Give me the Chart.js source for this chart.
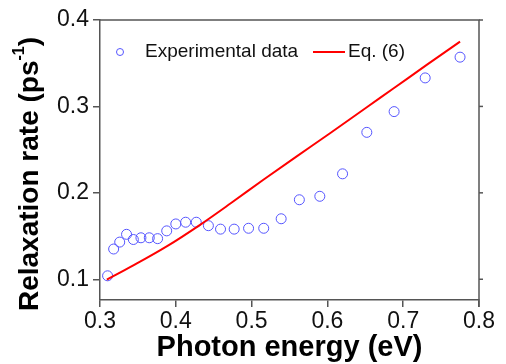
<!DOCTYPE html>
<html>
<head>
<meta charset="utf-8">
<script src="https://cdn.jsdelivr.net/npm/chart.js@4"></script>
<style>
  html, body { margin: 0; padding: 0; background: #fff; }
  #grafico { display: block; }
</style>
</head>
<body>
<canvas id="grafico" width="506" height="364"></canvas>
<script>
// experimental points (photon energy in eV, relaxation rate in ps^-1)
const expEnergy = [0.310, 0.318, 0.326, 0.335, 0.344, 0.354, 0.365, 0.376, 0.388, 0.400, 0.413, 0.427,
                   0.443, 0.459, 0.477, 0.496, 0.516, 0.539, 0.563, 0.590, 0.620, 0.652, 0.688, 0.729, 0.775];
const expRate = [0.104, 0.135, 0.143, 0.152, 0.146, 0.148, 0.148, 0.147, 0.156, 0.164, 0.166, 0.166,
                 0.162, 0.158, 0.158, 0.159, 0.159, 0.170, 0.192, 0.196, 0.222, 0.270, 0.294, 0.333, 0.357];

// Eq. (6) curve
const eqEnergy = [0.309, 0.344, 0.388, 0.432, 0.472, 0.516, 0.560, 0.603, 0.652, 0.687, 0.731, 0.775];
const eqRate = [0.0995, 0.116, 0.138, 0.163, 0.1876, 0.2154, 0.2425, 0.2687, 0.2991, 0.3207, 0.348, 0.375];

const xTicks = [0.3, 0.4, 0.5, 0.6, 0.7, 0.8];
const yTicks = [0.1, 0.2, 0.3, 0.4];

const axisColor = '#555555';
const fontFam = "'Liberation Sans', Arial, sans-serif";

const toPoints = (xs, ys) => xs.map((x, i) => ({ x: x, y: ys[i] }));

// frame (top/right), y title with superscript and legend
const extras = {
    id: 'extras',
    afterDraw(chart) {
        const c = chart.ctx;
        const a = chart.chartArea;
        const ys = chart.scales.y;
        c.save();
        c.strokeStyle = axisColor;
        c.lineWidth = 1.5;
        c.beginPath();
        c.moveTo(a.left, a.top);
        c.lineTo(a.right, a.top);
        c.lineTo(a.right, a.bottom + 7);
        c.stroke();
        yTicks.forEach(v => {
            const py = ys.getPixelForValue(v);
            c.beginPath();
            c.moveTo(a.right, py);
            c.lineTo(a.right + 4, py);
            c.stroke();
        });

        // y axis title
        const big = 'bold 28px ' + fontFam;
        const small = 'bold 16px ' + fontFam;
        const p1 = 'Relaxation rate (ps', p2 = '-1', p3 = ')';
        c.font = big; const w1 = c.measureText(p1).width, w3 = c.measureText(p3).width;
        c.font = small; const w2 = c.measureText(p2).width;
        const total = w1 + w2 + w3;
        c.translate(30, 174);
        c.rotate(-Math.PI / 2);
        c.fillStyle = '#000';
        c.textBaseline = 'middle';
        c.textAlign = 'left';
        let x0 = -total / 2;
        c.font = big; c.fillText(p1, x0, 0);
        c.font = small; c.fillText(p2, x0 + w1, -10);
        c.font = big; c.fillText(p3, x0 + w1 + w2, 0);
        c.restore();

        // legend
        const ds0 = chart.data.datasets[0], ds1 = chart.data.datasets[1];
        c.save();
        c.font = '19px ' + fontFam;
        c.fillStyle = '#111';
        c.textBaseline = 'middle';
        c.strokeStyle = ds0.borderColor;
        c.lineWidth = 1;
        c.beginPath();
        c.arc(120, 52, 3.5, 0, Math.PI * 2);
        c.stroke();
        c.fillText(ds0.label, 145, 52);
        c.strokeStyle = ds1.borderColor;
        c.lineWidth = 2;
        c.beginPath();
        c.moveTo(313, 52);
        c.lineTo(345, 52);
        c.stroke();
        c.fillText(ds1.label, 348, 52);
        c.restore();
    }
};

const ctx = document.getElementById('grafico').getContext('2d');
const miGrafico = new Chart(ctx, {
    type: 'scatter',
    data: {
        datasets: [
            {
                label: 'Experimental data',
                data: toPoints(expEnergy, expRate),
                borderColor: 'rgb(85, 85, 255)',
                backgroundColor: 'rgba(0,0,0,0)',
                borderWidth: 1,
                pointRadius: 5,
                showLine: false,
                order: 1
            },
            {
                label: 'Eq. (6)',
                data: toPoints(eqEnergy, eqRate),
                borderColor: '#ff0000',
                backgroundColor: '#ff0000',
                borderWidth: 2,
                pointRadius: 0,
                showLine: true,
                cubicInterpolationMode: 'monotone',
                order: 0
            }
        ]
    },
    options: {
        responsive: false,
        animation: false,
        layout: { padding: { top: 20, right: 27, left: 0, bottom: 0 } },
        plugins: {
            legend: { display: false },
            tooltip: { enabled: false }
        },
        scales: {
            x: {
                type: 'linear',
                min: 0.3,
                max: 0.8,
                afterBuildTicks: s => { s.ticks = xTicks.map(v => ({ value: v })); },
                afterFit: s => { s.height = 64; },
                ticks: {
                    font: { family: fontFam, size: 23 },
                    color: '#111',
                    padding: 1,
                    maxRotation: 0,
                    callback: v => v.toFixed(1)
                },
                grid: { drawOnChartArea: false, tickLength: 7, color: axisColor, lineWidth: 1.5 },
                border: { color: axisColor, width: 1.5 },
                title: {
                    display: true,
                    text: 'Photon energy (eV)',
                    font: { family: fontFam, size: 29, weight: 'bold' },
                    color: '#000',
                    padding: { top: 0, bottom: -1 }
                }
            },
            y: {
                min: 0.076,
                max: 0.4,
                afterBuildTicks: s => { s.ticks = yTicks.map(v => ({ value: v })); },
                afterFit: s => { s.width = 100; },
                ticks: {
                    font: { family: fontFam, size: 23 },
                    color: '#111',
                    padding: 4,
                    callback: v => v.toFixed(1)
                },
                grid: { drawOnChartArea: false, tickLength: 7, color: axisColor, lineWidth: 1.5 },
                border: { color: axisColor, width: 1.5 }
            }
        }
    },
    plugins: [extras]
});
</script>
</body>
</html>
